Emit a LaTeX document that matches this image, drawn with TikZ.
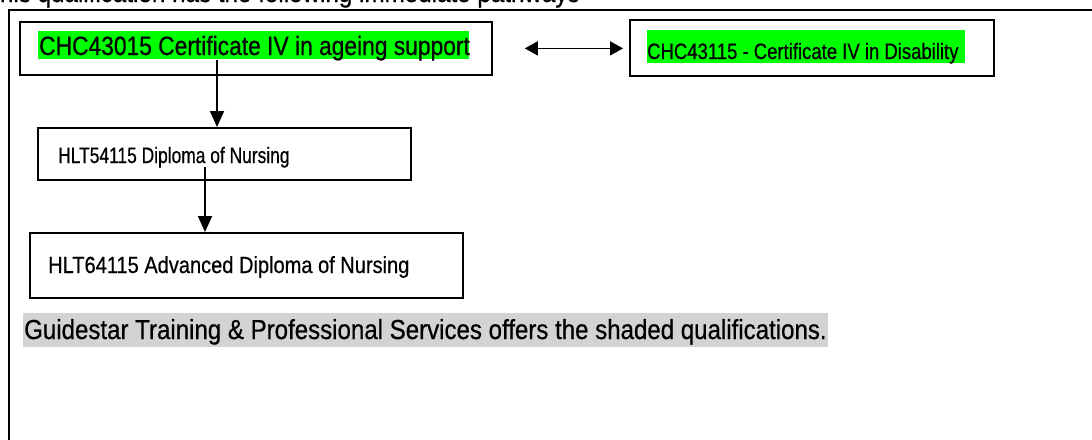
\documentclass[tikz,border=0pt]{standalone}
\usepackage{fontspec}
\setmainfont{Liberation Sans}
\usetikzlibrary{arrows.meta}
\definecolor{hlgreen}{HTML}{00FF00}
\definecolor{hlgray}{HTML}{D3D3D3}
\newcommand{\fsz}[2]{\fontsize{#1}{#1}\selectfont\addfontfeatures{FakeStretch=#2,FakeBold=0.6}}
\begin{document}
\begin{tikzpicture}[x=1pt,y=1pt,
  box/.style={draw, line width=1.8pt, rectangle, inner sep=0pt, anchor=north west},
  lbl/.style={inner sep=0pt, anchor=base west},
  hl/.style={inner sep=0pt, anchor=north west, minimum width=0pt, minimum height=0pt},
  conn/.style={line width=1.7pt, -{Triangle[length=16pt,width=14pt]}},
  dconn/.style={line width=1.7pt, {Triangle[length=13pt,width=14pt]}-{Triangle[length=13pt,width=14pt]}},
]
\useasboundingbox (0,0) rectangle (1092,-439);
\clip (0,0) rectangle (1092,-439);
% outer frame
\draw[line width=2.3pt] (9,-441) -- (9,-10) -- (1094,-10);
% cut-off heading
\node[lbl, font=\fsz{27.5}{0.88}] (title) at (-15,-2) {This qualification has the following immediate pathways};
% boxes
\node[box, minimum width=472, minimum height=53] (b1) at (19,-21) {};
\node[box, minimum width=364, minimum height=56] (b2) at (629,-19) {};
\node[box, minimum width=373, minimum height=52] (b3) at (37,-127) {};
\node[box, minimum width=433, minimum height=65] (b4) at (29,-232) {};
% highlights
\node[hl, fill=hlgreen, minimum width=431, minimum height=28] (h1) at (38,-31) {};
\node[hl, fill=hlgreen, minimum width=318, minimum height=33] (h2) at (647,-30) {};
\node[hl, fill=hlgray, minimum width=805, minimum height=34] (h5) at (23,-313) {};
% texts
\node[lbl, font=\fsz{26.5}{0.86}] (t1) at (39,-55) {CHC43015 Certificate IV in ageing support};
\node[lbl, font=\fsz{22.3}{0.83}] (t2) at (647,-59) {CHC43115 - Certificate IV in Disability};
\node[lbl, font=\fsz{22.3}{0.78}] (t3) at (58,-163) {HLT54115 Diploma of Nursing};
\node[lbl, font=\fsz{23.3}{0.86}] (t4) at (48,-273) {HLT64115 Advanced Diploma of Nursing};
\node[lbl, font=\fsz{27.5}{0.875}] (t5) at (24,-339) {Guidestar Training \& Professional Services offers the shaded qualifications.};
% connectors
\coordinate (s1) at (217,-60);
\coordinate (s2) at (205,-167);
\draw[conn] (s1) -- (s1 |- b3.north);
\draw[conn] (s2) -- (s2 |- b4.north);
\draw[dconn, shorten <=32pt, shorten >=6pt] (b1.east) -- (b2.west |- b1.east);
\end{tikzpicture}
\end{document}
